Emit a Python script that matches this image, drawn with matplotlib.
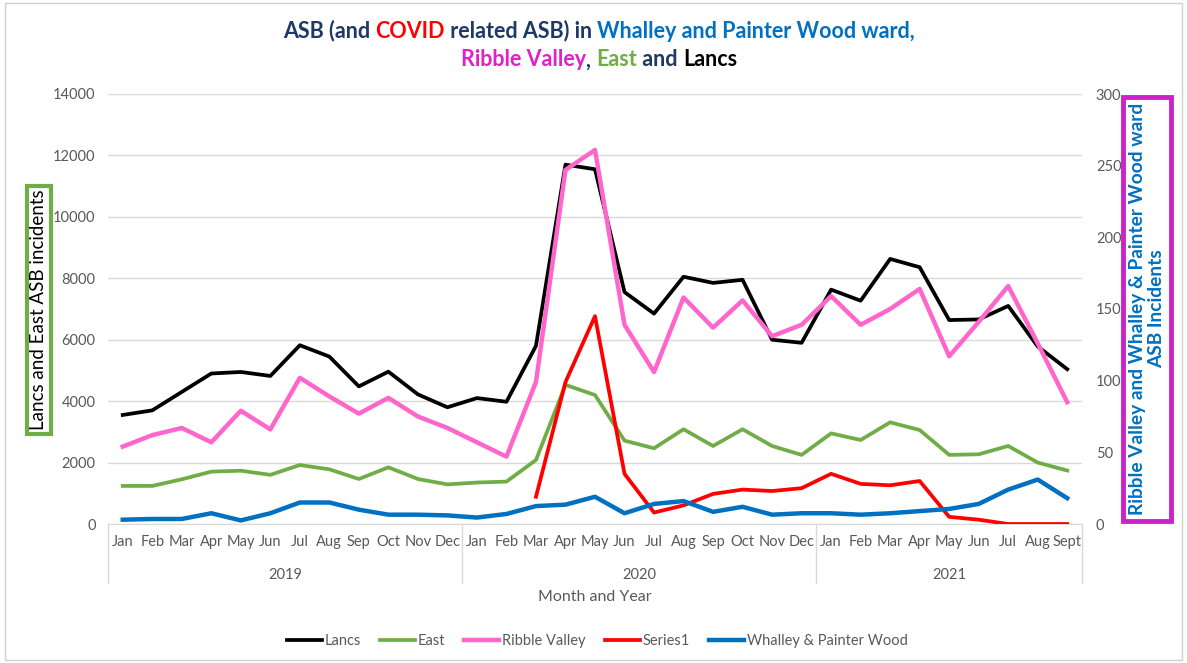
import matplotlib
matplotlib.use("Agg")
import matplotlib.pyplot as plt
from matplotlib.patches import Rectangle

plt.rcParams['font.family'] = ['Lato', 'DejaVu Sans']

months = ["Jan", "Feb", "Mar", "Apr", "May", "Jun", "Jul", "Aug", "Sep", "Oct", "Nov", "Dec",
          "Jan", "Feb", "Mar", "Apr", "May", "Jun", "Jul", "Aug", "Sep", "Oct", "Nov", "Dec",
          "Jan", "Feb", "Mar", "Apr", "May", "Jun", "Jul", "Aug", "Sept"]
years = ["2019", "2020", "2021"]
year_counts = [12, 12, 9]

lancs = [3550, 3700, 4300, 4900, 4950, 4820, 5820, 5450, 4480, 4960, 4220, 3800,
         4100, 3980, 5800, 11700, 11550, 7550, 6850, 8050, 7850, 7950, 6000, 5900,
         7630, 7270, 8630, 8360, 6640, 6660, 7100, 5780, 5040]
east = [1240, 1240, 1455, 1705, 1735, 1600, 1920, 1780, 1465, 1845, 1465, 1290,
        1350, 1380, 2085, 4530, 4200, 2715, 2465, 3085, 2540, 3085, 2540, 2250,
        2950, 2735, 3310, 3060, 2250, 2270, 2540, 2000, 1740]
ribble = [54, 62, 67, 57, 79, 66, 102, 89, 77, 88, 75, 67,
          57, 47, 99, 247, 261, 139, 106, 158, 137, 156, 131, 139,
          159, 139, 150, 164, 117, 141, 166, 126, 85]
series1 = [None] * 14 + [19, 99, 145, 35, 8, 13, 21, 24, 23, 25,
                         35, 28, 27, 30, 5, 3, 0, 0, 0]
whalley = [3, 3.5, 3.5, 7.5, 2.5, 7.5, 15, 15, 10, 6.5, 6.5, 6,
           4.5, 7, 12.5, 13.5, 19, 7.5, 14, 16, 8.5, 12, 6.5, 7.5,
           7.5, 6.5, 7.5, 9, 10.5, 14, 24, 31, 18]

x = list(range(len(months)))
s1 = [float('nan') if v is None else v for v in series1]

W, H = 1187, 663
fig = plt.figure(figsize=(W / 100, H / 100), dpi=100)
fig.patches.append(Rectangle((0.004, 0.004), 0.992, 0.992, transform=fig.transFigure,
                             fill=False, edgecolor="#D0D0D0", lw=1))

ax = fig.add_axes([108 / W, 1 - 524 / H, (1082 - 108) / W, (524 - 94) / H])
ax2 = ax.twinx()

l1, = ax.plot(x, lancs, color="black", lw=2.7, label="Lancs")
l2, = ax.plot(x, east, color="#70AD47", lw=2.7, label="East")
l3, = ax2.plot(x, ribble, color="#FF66CC", lw=3.2, label="Ribble Valley")
l4, = ax2.plot(x, s1, color="#FF0000", lw=2.7, label="Series1")
l5, = ax2.plot(x, whalley, color="#0070C0", lw=3.2, label="Whalley & Painter Wood")

ax.set_xlim(-0.5, len(months) - 0.5)
ax.set_ylim(0, 14000)
ax2.set_ylim(0, 300)
ax.set_yticks(range(0, 14001, 2000))
ax2.set_yticks(range(0, 301, 50))
ax.grid(axis="y", color="#D9D9D9", lw=1)
ax.set_axisbelow(True)
for a in (ax, ax2):
    for sp in a.spines.values():
        sp.set_visible(False)
    a.tick_params(length=0, colors="#595959", labelsize=10.5)
ax.spines["bottom"].set_visible(True)
ax.spines["bottom"].set_color("#D9D9D9")
ax.tick_params(axis="y", pad=9)
ax2.tick_params(axis="y", pad=10)

ax.set_xticks(x)
ax.set_xticklabels(months, fontsize=10.5, color="#595959")
ax.tick_params(axis="x", pad=8)

# year level and separators
tr = ax.get_xaxis_transform()
start = 0
bounds = [-0.5]
for yr, n in zip(years, year_counts):
    ax.text(start + (n - 1) / 2, -0.118, yr, transform=tr, ha="center", va="center",
            fontsize=10.5, color="#595959")
    start += n
    bounds.append(start - 0.5)
for b in bounds:
    ax.plot([b, b], [0, -0.137], transform=tr, color="#D9D9D9", lw=1, clip_on=False)

fig.text(595 / W, 1 - 597 / H, "Month and Year", ha="center", va="center",
         fontsize=11.5, color="#595959")

fig.text(39 / W, 1 - 310 / H, "Lancs and East ASB incidents", rotation=90,
         ha="center", va="center", fontsize=13.5, color="black",
         bbox=dict(boxstyle="square,pad=0.2", fc="white", ec="#70AD47", lw=3))
fig.text(1147 / W, 1 - 309 / H, "Ribble Valley and Whalley & Painter Wood ward\nASB Incidents",
         rotation=90, ha="center", va="center", fontsize=13.8, color="#0070C0",
         fontweight="bold", linespacing=1.2,
         bbox=dict(boxstyle="square,pad=0.3", fc="white", ec="#CC22CC", lw=3.5))

fig.legend(handles=[l1, l2, l3, l4, l5], loc="center", bbox_to_anchor=(597 / W, 1 - 641 / H),
           ncol=5, frameon=False, fontsize=10.5, handlelength=2.4, columnspacing=1.3,
           handletextpad=0.2, labelcolor="#595959")

# multicolour title
navy = "#1F3864"
title_lines = [
    [("ASB (and ", navy), ("COVID", "#FF0000"), (" related ASB) in ", navy),
     ("Whalley and Painter Wood ward,", "#0070C0")],
    [("Ribble Valley", "#E020C8"), (", ", navy), ("East", "#70AD47"),
     (" and ", navy), ("Lancs", "black")],
]
renderer = fig.canvas.get_renderer()
for ypix, pieces in zip([31, 60], title_lines):
    texts = []
    widths = []
    for s, c in pieces:
        t = fig.text(0, 1 - ypix / H, s, color=c, fontsize=15.5, fontweight="bold",
                     ha="left", va="center")
        widths.append(t.get_window_extent(renderer).width)
        texts.append(t)
    xpos = 599 - sum(widths) / 2
    for t, w in zip(texts, widths):
        t.set_x(xpos / W)
        xpos += w

fig.savefig("out.png", dpi=100)
